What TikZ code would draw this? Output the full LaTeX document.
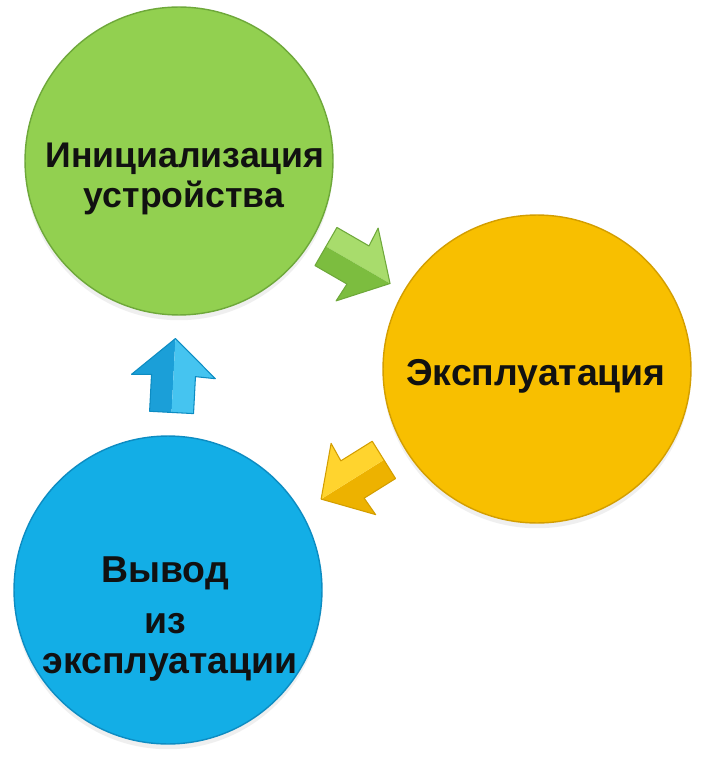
\documentclass[tikz,border=0pt]{standalone}
\usepackage{fontspec}
\setmainfont{Liberation Sans}
\usepackage{tikz}
\usetikzlibrary{calc,shadows}
\definecolor{grn}{HTML}{92D050}
\definecolor{grnrim}{HTML}{6EA83A}
\definecolor{grnlt}{HTML}{A8DC6C}
\definecolor{grndk}{HTML}{7CBD3F}
\definecolor{ylw}{HTML}{F8BF00}
\definecolor{ylwrim}{HTML}{D39E00}
\definecolor{ylwlt}{HTML}{FFD42E}
\definecolor{ylwdk}{HTML}{EDB200}
\definecolor{blu}{HTML}{13AEE6}
\definecolor{blurim}{HTML}{0D8CC2}
\definecolor{blult}{HTML}{45C4F0}
\definecolor{bludk}{HTML}{1B9FD8}
\definecolor{ink}{HTML}{111111}
\tikzset{
  stage/.style={circle, minimum size=6.16cm, inner sep=0pt, line width=0.8pt,
    drop shadow={opacity=0.12, shadow xshift=0pt, shadow yshift=-3pt}},
  lab/.style={text=ink, font=\bfseries\fontsize{21.3}{24}\selectfont, inner sep=0pt, anchor=base},
  labs/.style={lab, font=\bfseries\fontsize{20.3}{24}\selectfont},
  pics/cyclearrow/.style n args={3}{code={
    \fill[#1] (-37,0) -- (-37,-22) -- (0,-22) -- (-1,-42) -- (37,0) -- cycle;
    \fill[#2] (-37,0) -- (-37,22) -- (0,22) -- (-1,42) -- (37,0) -- cycle;
    \draw[#3, line width=0.6pt, line join=round]
      (-37,-22) -- (0,-22) -- (-1,-42) -- (37,0) -- (-1,42) -- (0,22) -- (-37,22) -- cycle;
  }},
}

\begin{document}
\begin{tikzpicture}[x=0.02cm, y=-0.02cm]
\fill[white] (0,0) rectangle (702,760);
\useasboundingbox (0,0) rectangle (702,760);

% stages
\node[stage, fill=grn, draw=grnrim] (init) at (179,161) {};
\node[stage, fill=ylw, draw=ylwrim] (oper) at (537,369) {};
\node[stage, fill=blu, draw=blurim] (out) at (168,590) {};

% labels
\node[labs] (initA) at (185,168) {Инициализация};
\node[labs] (initB) at (184,208) {устройства};
\node[lab] (operA) at (536,385) {Эксплуатация};
\node[lab] (outA) at (165,582) {Вывод};
\node[lab] (outB) at (165,633) {из};
\node[lab] (outC) at (170,673) {эксплуатации};

% arrows between stages
\pic[rotate=-30] at ($(init)!0.5!(oper)$) {cyclearrow={grnlt}{grndk}{grnrim}};
\pic[rotate=212] at ($(oper)!0.5!(out)$) {cyclearrow={ylwdk}{ylwlt}{ylwrim}};
\pic[rotate=87] at ($(out)!0.5!(init)$) {cyclearrow={bludk}{blult}{blurim}};
\end{tikzpicture}
\end{document}
